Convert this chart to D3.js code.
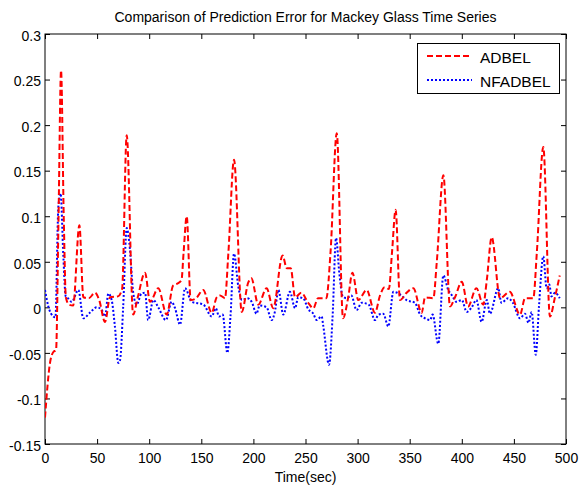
<!DOCTYPE html>
<html><head><meta charset="utf-8">
<script src="https://cdn.jsdelivr.net/npm/d3@7"></script>
<style>body{margin:0;background:#fff}svg{display:block}text{font-family:"Liberation Sans",Arial,sans-serif}</style>
</head><body><div id="chart"></div>
<script>
const title = "Comparison of Prediction Error for Mackey Glass Time Series";
const xLabel = "Time(sec)";
const seriesNames = ["ADBEL", "NFADBEL"];
const xTicks = [0,50,100,150,200,250,300,350,400,450,500];
const yTicks = [-0.15,-0.1,-0.05,0,0.05,0.1,0.15,0.2,0.25,0.3];

const adbelT = [0,4.8,8,10.6,13,15.4,18,20,23,27,33,36.8,42,48,52,57.6,62.4,70,74,78.4,84.6,89,96,100.8,108.7,116.8,123,127,131,133,136,139.8,145,151.8,160,164.8,168,172.7,176,181.4,188.8,195,198,204.7,212.7,219,228,232,235.8,240,246,252.6,257.5,262,270,274,280,286,291,295,300.7,308.7,316.7,321.5,326,330,333,336.5,340.7,347,353.5,361.5,364.7,372.7,376,382.3,388.7,393.5,400,406,414,420.6,424,428.7,436.7,446,455.9,460.7,468.6,472,478.2,484.6,489.4,494];
const adbelV = [-0.121,-0.061,-0.049,-0.047,0.1,0.26,0.099,0.011,0.003,0.002,0.09,0.011,0.01,0.016,0.008,-0.016,0.011,0.012,0.02,0.189,-0.008,0.011,0.038,0.006,0.021,-0.008,0.024,0.026,0.03,0.06,0.1,0.008,0.01,0.019,-0.006,0.011,0.013,0.01,0.06,0.162,-0.005,0.027,0.032,0.003,0.021,-0.001,0.057,0.043,0.043,0.011,0.016,0.005,-0.001,0.010,0.010,0.06,0.191,-0.012,0.011,0.038,0.008,0.019,-0.006,0.013,0.022,0.02,0.06,0.107,0.008,0.016,0.021,-0.006,0.011,0.01,0.05,0.145,0.001,0.011,0.028,0.001,0.021,0.003,0.03,0.077,0.010,0.017,-0.008,0.010,0.010,0.06,0.176,-0.010,0.011,0.035];

const nfadbelT = [0,3.2,8,10,12.8,15,17.6,19.9,22,25.6,32,36.8,43,49.6,54,57.6,60.8,64,67,70.4,72,75,78.4,81,84.8,88,92.5,96,99,104,108.7,116,121.6,124.8,129.6,134.4,140.8,152,160,164,167,170.5,175,178,181.4,185.5,189,194,198.4,203,206,212.7,217.5,220.6,224,228.7,235,240,243,247.8,252.6,257.5,260.7,265.5,267,272.6,276,279.3,282.5,285.7,289.5,294,299,304,310.6,316.7,320,324.6,329.5,334.3,338,342,347,355,360,364.7,369.5,372,377.4,382.3,387,390.6,395,400,404.7,409.5,414,419,424,427,435,438,444.5,449,455.9,460.7,464,467,471,474,478.2,481.4,484,486,489.4,494];
const nfadbelV = [0.019,0.001,-0.010,-0.011,0.110,0.125,0.056,0.012,0.010,0.006,0.019,-0.012,-0.006,0.0,-0.002,-0.010,0.015,0.008,-0.02,-0.061,-0.058,0.0,0.087,0.07,0.015,0.003,0.015,0.016,-0.014,0.008,0.0,-0.014,0.006,-0.001,-0.019,0.021,0.006,0.003,-0.010,-0.001,-0.010,-0.008,-0.050,-0.01,0.059,0.023,0.008,0.010,0.006,-0.007,0.002,0.0,-0.014,-0.005,0.019,-0.008,0.017,-0.001,0.011,0.010,-0.002,-0.007,-0.014,-0.010,-0.02,-0.063,-0.01,0.076,0.037,0.012,0.010,0.013,-0.003,0.005,0.003,-0.014,-0.008,-0.007,-0.021,0.017,0.016,0.013,0.008,0.005,-0.008,-0.012,-0.014,-0.008,-0.040,0.035,0.019,0.013,0.006,0.008,-0.005,0.0,0.008,-0.016,0.008,-0.007,0.021,0.005,0.010,0.005,-0.012,-0.007,-0.017,-0.005,-0.052,0.0,0.056,0.021,0.025,0.012,0.016,0.010];

const W = 580, H = 490;
const m = {left:45, right:14, top:34, bottom:46};
const svg = d3.select("#chart").append("svg").attr("width", W).attr("height", H);
const x = d3.scaleLinear().domain([0,500]).range([m.left, W - m.right]);
const y = d3.scaleLinear().domain([-0.15,0.3]).range([H - m.bottom, m.top]);

const fmt = d => (Math.round(d*100)/100).toString();
const tk = 5;
function styleAxis(g){ g.select(".domain").remove(); g.selectAll("line").attr("stroke","#000"); g.selectAll("text").attr("font-size","14px").attr("fill","#000"); }

svg.append("g").attr("transform",`translate(0,${H-m.bottom})`)
  .call(d3.axisBottom(x).tickValues(xTicks).tickSizeInner(-tk).tickSizeOuter(0).tickPadding(9))
  .call(styleAxis);
svg.append("g").attr("transform",`translate(0,${m.top})`)
  .call(d3.axisTop(x).tickValues(xTicks).tickSizeInner(-tk).tickSizeOuter(0).tickFormat(""))
  .call(styleAxis);
svg.append("g").attr("transform",`translate(${m.left},0)`)
  .call(d3.axisLeft(y).tickValues(yTicks).tickSizeInner(-tk).tickSizeOuter(0).tickPadding(4).tickFormat(fmt))
  .call(styleAxis)
  .call(g=>g.selectAll("text").attr("dy","0.45em"));
svg.append("g").attr("transform",`translate(${W-m.right},0)`)
  .call(d3.axisRight(y).tickValues(yTicks).tickSizeInner(-tk).tickSizeOuter(0).tickFormat(""))
  .call(styleAxis);

svg.append("rect").attr("x",m.left).attr("y",m.top)
  .attr("width",W-m.left-m.right).attr("height",H-m.top-m.bottom)
  .attr("fill","none").attr("stroke","#000").attr("stroke-width",1);

svg.append("clipPath").attr("id","clip").append("rect")
  .attr("x",m.left).attr("y",m.top).attr("width",W-m.left-m.right).attr("height",H-m.top-m.bottom);

const line = d3.line().x(d=>x(d[0])).y(d=>y(d[1])).curve(d3.curveMonotoneX);
const seriesData = [
  {name:seriesNames[0], pts:d3.zip(adbelT, adbelV), color:"#ff0000", dash:"6,3"},
  {name:seriesNames[1], pts:d3.zip(nfadbelT, nfadbelV), color:"#0000ff", dash:"2,2"}
];
const plot = svg.append("g").attr("clip-path","url(#clip)");
seriesData.slice().reverse().forEach(s=>{
  plot.append("path").datum(s.pts).attr("d",line).attr("fill","none")
    .attr("stroke",s.color).attr("stroke-width",2).attr("stroke-dasharray",s.dash);
});

svg.append("text").attr("x",(m.left+W-m.right)/2).attr("y",22).attr("text-anchor","middle")
  .attr("font-size","14px").text(title);
svg.append("text").attr("x",(m.left+W-m.right)/2).attr("y",482).attr("text-anchor","middle")
  .attr("font-size","14px").text(xLabel);

const lg = svg.append("g");
lg.append("rect").attr("x",417.5).attr("y",43.5).attr("width",142).attr("height",50)
  .attr("fill","#fff").attr("stroke","#000");
seriesData.forEach((s,i)=>{
  const yy = 56 + i*24;
  lg.append("line").attr("x1",427).attr("x2",472).attr("y1",yy).attr("y2",yy)
    .attr("stroke",s.color).attr("stroke-width",2).attr("stroke-dasharray",s.dash);
  lg.append("text").attr("x",480).attr("y",yy+7).attr("font-size","15.5px").text(s.name);
});
</script></body></html>
